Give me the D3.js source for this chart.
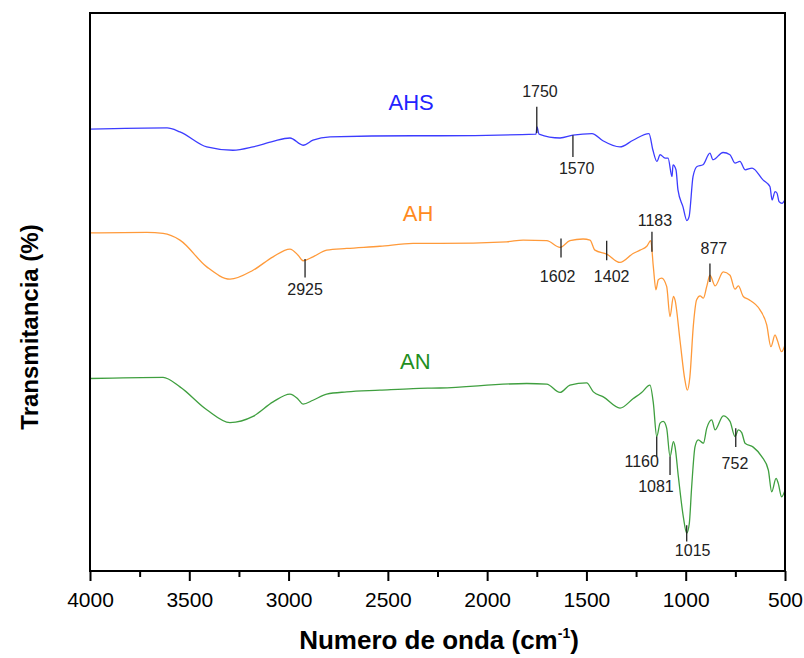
<!DOCTYPE html>
<html>
<head>
<meta charset="utf-8">
<script src="https://cdn.jsdelivr.net/npm/d3@7"></script>
<style>
  body { margin: 0; background: #fff; }
  text { font-family: "Liberation Sans", Arial, sans-serif; }
</style>
</head>
<body>
<div id="chart"></div>
<script>
// wavenumber (cm-1) and transmittance (arbitrary %, offset per sample)
var ahsWn = [4000,3612,3547,3412,3280,3179,3078,2993,2927,2877,2791,2373,2237,1754,1749,1739,1633,1568,1472,1417,1331,1265,1185,1165,1145,1129,1104,1089,1069,1064,1049,1039,1014,994,983,963,943,913,878,863,812,777,752,727,701,666,611,576,565,550,540,530,515,500];
var ahsT  = [79.2,79.4,78.7,76.0,75.4,76.0,77.0,77.6,76.3,77.2,77.8,78.0,78.0,78.3,79.6,78.3,77.6,78.1,78.4,77.1,76.0,77.2,78.4,75.4,73.4,74.6,74.0,74.0,70.7,72.8,71.9,68.3,65.3,62.8,63.5,70.7,72.5,72.8,74.9,73.7,75.0,74.6,73.1,73.4,71.9,72.2,70.1,68.9,66.5,68.0,67.7,66.2,65.9,66.5];

var ahWn = [4000,3714,3632,3547,3412,3295,3179,3078,2993,2952,2927,2877,2808,2707,2540,2373,2237,1902,1819,1700,1633,1583,1517,1482,1457,1398,1331,1265,1230,1196,1176,1163,1150,1138,1121,1096,1079,1062,1054,1029,1004,992,979,962,945,928,911,894,878,852,811,777,752,735,710,685,626,592,571,550,539,517,500];
var ahT  = [60.6,60.7,60.5,59.3,54.5,52.3,53.9,56.3,57.7,56.6,55.6,56.3,57.5,57.8,58.2,58.7,58.7,59.0,59.3,59.2,58.0,59.2,59.5,59.3,57.5,56.8,55.3,56.9,57.5,58.2,59.2,54.5,50.4,52.2,52.5,51.0,45.6,49.2,48.6,41.4,34.2,32.4,34.8,43.8,48.6,49.3,48.9,51.0,53.0,51.1,53.6,53.0,50.5,51.1,49.2,48.7,46.8,44.1,40.2,42.3,41.4,39.3,40.5];

var anWn = [4000,3632,3547,3412,3295,3179,3078,2993,2952,2927,2877,2808,2707,2540,2373,2237,1801,1700,1633,1583,1499,1465,1415,1331,1264,1222,1180,1163,1146,1129,1113,1096,1079,1062,1054,1037,1012,995,982,970,953,937,911,894,869,852,811,777,752,735,718,701,660,617,584,567,545,534,517,500];
var anT  = [34.5,34.7,33.0,28.9,26.6,27.7,30.3,31.7,30.8,29.9,30.6,31.7,32.1,32.4,32.7,32.8,33.6,33.5,32.0,33.3,33.7,32.1,31.2,29.2,30.9,32.0,33.3,30.1,24.1,26.5,26.8,25.6,20.5,23.2,22.3,16.9,9.7,6.8,8.5,15.1,22.3,23.5,22.9,25.6,27.1,25.3,27.8,26.8,24.1,25.3,24.8,22.9,22.2,20.5,18.1,14.2,16.6,15.7,13.3,14.5];

var seriesNames = ["AHS", "AH", "AN"];
var seriesColors = ["#3c3cff", "#ff9a3a", "#3f9f3f"];
var labelColors = ["#2323ff", "#ff8a1e", "#1f8f1f"];
var labelWn = [2383, 2348, 2362];
var labelT = [84.1, 64.1, 37.6];

// peak annotations: marker wavenumber, marker top/bottom, label position
var peakText  = ["1750","1570","2925","1602","1402","1183","877","1160","1081","1015","752"];
var peakWn    = [1750,1568,2917,1628,1398,1170,878,1146,1079,995,748];
var peakT1    = [83.2,78.1,55.9,59.6,59.2,60.8,55.1,24.1,20.5,8.2,25.6];
var peakT2    = [78.5,74.2,52.6,56.2,55.7,57.2,51.8,20.5,17.2,5.3,22.2];
var peakLabWn = [1734,1549,2917,1645,1373,1155,858,1222,1150,965,752];
var peakLabT  = [86.0,72.2,50.5,52.9,52.9,62.8,57.8,19.6,15.2,3.8,19.4];

var xTicks = [4000,3500,3000,2500,2000,1500,1000,500];
var xMinor = [3750,3250,2750,2250,1750,1250,750];

var width = 804, height = 658;
var margin = {top: 13, right: 19, bottom: 87, left: 90};

var svg = d3.select("#chart").append("svg")
  .attr("width", width)
  .attr("height", height);

var x = d3.scaleLinear().domain([4000, 500]).range([margin.left, width - margin.right]);
var y = d3.scaleLinear().domain([0, 100]).range([height - margin.bottom, margin.top]);

var line = d3.line()
  .curve(d3.curveMonotoneX)
  .x(function(d) { return x(d[0]); })
  .y(function(d) { return y(d[1]); });

var allWn = [ahsWn, ahWn, anWn];
var allT = [ahsT, ahT, anT];

allWn.forEach(function(wn, i) {
  var pts = wn.map(function(w, j) { return [w, allT[i][j]]; });
  svg.append("path")
    .datum(pts)
    .attr("d", line)
    .attr("fill", "none")
    .attr("stroke", seriesColors[i])
    .attr("stroke-width", 1.3)
    .attr("stroke-linejoin", "round");

  svg.append("text")
    .attr("x", x(labelWn[i]))
    .attr("y", y(labelT[i]))
    .attr("dy", "0.36em")
    .attr("text-anchor", "middle")
    .attr("font-size", 22)
    .attr("fill", labelColors[i])
    .text(seriesNames[i]);
});

// peak markers
peakText.forEach(function(t, i) {
  svg.append("line")
    .attr("x1", x(peakWn[i])).attr("x2", x(peakWn[i]))
    .attr("y1", y(peakT1[i])).attr("y2", y(peakT2[i]))
    .attr("stroke", "#222")
    .attr("stroke-width", 1.3);
  svg.append("text")
    .attr("x", x(peakLabWn[i]))
    .attr("y", y(peakLabT[i]))
    .attr("dy", "0.36em")
    .attr("text-anchor", "middle")
    .attr("font-size", 16)
    .attr("fill", "#222")
    .text(t);
});

// frame
svg.append("rect")
  .attr("x", margin.left)
  .attr("y", margin.top)
  .attr("width", width - margin.left - margin.right)
  .attr("height", height - margin.top - margin.bottom)
  .attr("fill", "none")
  .attr("stroke", "#000")
  .attr("stroke-width", 2);

var xAxis = svg.append("g")
  .attr("transform", "translate(0," + (height - margin.bottom) + ")")
  .call(d3.axisBottom(x).tickValues(xTicks).tickSize(10).tickPadding(11).tickFormat(d3.format("d")));
xAxis.select(".domain").remove();
xAxis.selectAll("line").attr("stroke-width", 2);
xAxis.selectAll("text")
  .attr("font-size", 21)
  .attr("font-family", "'Liberation Sans', Arial, sans-serif")
  .attr("fill", "#000");

var xAxisMinor = svg.append("g")
  .attr("transform", "translate(0," + (height - margin.bottom) + ")")
  .call(d3.axisBottom(x).tickValues(xMinor).tickSize(6).tickFormat(""));
xAxisMinor.select(".domain").remove();
xAxisMinor.selectAll("line").attr("stroke-width", 2);

// titles
var xt = svg.append("text")
  .attr("x", 439)
  .attr("y", 649)
  .attr("text-anchor", "middle")
  .attr("font-size", 26)
  .attr("font-weight", "bold");
xt.append("tspan").text("Numero de onda (cm");
xt.append("tspan").attr("font-size", 14).attr("dy", -11).text("-1");
xt.append("tspan").attr("dy", 11).text(")");

svg.append("text")
  .attr("transform", "translate(38,327) rotate(-90)")
  .attr("text-anchor", "middle")
  .attr("font-size", 24)
  .attr("font-weight", "bold")
  .text("Transmitancia (%)");
</script>
</body>
</html>
